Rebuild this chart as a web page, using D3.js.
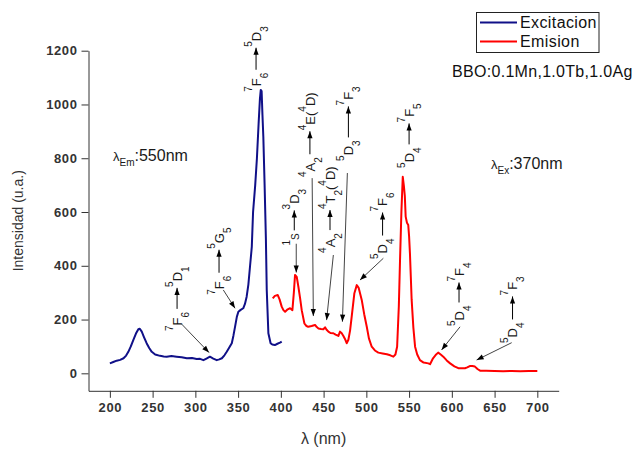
<!DOCTYPE html>
<html>
<head>
<meta charset="utf-8">
<script src="https://cdn.jsdelivr.net/npm/d3@7"></script>
<style>
  body { margin: 0; background: #fff; }
  svg { display: block; font-family: Arial, "Liberation Sans", sans-serif; }
</style>
</head>
<body>
<svg id="chart" width="635" height="451"></svg>
<script>
// excitation spectrum (lambda_em = 550 nm)
const excWl = [200, 204, 208, 212, 216, 219, 221.6, 224.5, 227.5, 230.5, 233.3, 235, 237.3, 240, 243, 246, 249, 253,
  258.7, 263, 266.5, 272, 278, 284, 290, 296, 301.6, 305.5, 309.4, 313, 317, 321, 325, 328, 331, 334, 336.7, 339.5,
  342.6, 344.5, 346.4, 348.5, 350.3, 353, 356, 358, 360, 362, 364, 366, 367.5, 370, 372, 374, 375.5, 376.5, 377.5,
  378.5, 379.5, 381, 382.5, 383.5, 385.4, 388, 390, 393, 396, 399, 401];
const excInt = [37, 42, 47, 50, 56, 66, 80, 100, 124, 148, 164, 166, 155, 134, 112, 94, 80, 70,
  65, 63, 62, 64, 62, 60, 56, 57, 53, 54, 49, 55, 62, 55, 49, 52, 56, 67, 80, 95,
  112, 140, 173, 210, 229, 236, 242, 258, 285, 330, 400, 470, 600, 700, 800, 930, 1020, 1054, 1050,
  960, 880, 700, 500, 310, 149, 112, 107, 105, 110, 114, 118];

// emission spectrum (lambda_ex = 370 nm)
const emWl = [390.5, 393, 396.4, 398.5, 401, 403, 405, 408, 410.8, 413.5, 415.2, 416.6, 418.6, 420.5, 422.5, 424.4,
  427.5, 430, 432, 436, 438, 440, 442, 444, 447, 449.7, 451.7, 453.5, 455.6, 458, 461.4, 464, 467.3, 469.2, 471, 473,
  475, 477, 479, 481, 483, 486, 488.8, 491, 494.6, 497.5, 500.5, 503, 506.3, 510, 514, 519, 524, 528, 531.6, 534, 536,
  538, 539.4, 541, 542.6, 544, 545, 546, 547.5, 549, 550, 551, 552, 553, 555, 557, 559.5, 562.7, 567, 572.5, 574.5,
  578, 581, 584, 587, 590, 594, 598, 603, 607.6, 611, 615.4, 618, 621, 624, 627, 630, 633, 640, 650, 660, 670, 680,
  690, 700];
const emInt = [279, 288, 291, 275, 248, 235, 229, 238, 242, 235, 300, 366, 359, 322, 280, 235,
  186, 176, 173, 176, 178, 180, 172, 167, 165, 164, 171, 162, 155, 150, 149, 144, 139, 155, 150, 140,
  128, 112, 125, 160, 215, 298, 328, 318, 273, 220, 173, 130, 99, 85, 77, 74, 71, 67, 62, 70, 99,
  250, 421, 600, 731, 694, 660, 583, 560, 552, 510, 446, 360, 273, 170, 99, 70, 49, 40, 37, 34,
  56, 68, 77, 70, 62, 48, 37, 26, 19, 19, 19, 22, 27, 27, 25, 16, 10, 10, 9, 8, 9, 8,
  9, 9];

const xTicks = [200, 250, 300, 350, 400, 450, 500, 550, 600, 650, 700];
const xMinor = [175, 225, 275, 325, 375, 425, 475, 525, 575, 625, 675, 725];
const yTicks = [0, 200, 400, 600, 800, 1000, 1200];
const yMinor = [100, 300, 500, 700, 900, 1100];
const seriesNames = ["Excitacion", "Emision"];

// transition labels: ^ = superscript, _ = subscript, ~ = small letter
const notes = [
  { at: [371, 1047], lo: "^7F_6", up: "^5D_3", len: 22 },
  { at: [327.7, 292], lo: "^7F_6", up: "^5G_5", len: 23, ptr: [[332.7, 310], [346.4, 242]] },
  { at: [278.6, 157.6], lo: "^7F_6", up: "^5D_1", len: 21, ptr: [[284, 183], [316, 77]] },
  { at: [415.7, 475], lo: "^1~S", up: "^3D_3", len: 20, ptr: [[418, 482], [418, 375]] },
  { at: [434, 730], lo: "^4A_2", up: "^4E(^4D)", len: 23, ptr: [[436.6, 726], [438, 213]] },
  { at: [457.5, 448], lo: "^4A_2", up: "^4T_2(^4D)", len: 20, ptr: [[461.4, 440], [453.5, 198]] },
  { at: [479, 790], lo: "^5D_3", up: "^7F_3", len: 31, ptr: [[477.8, 745], [472, 192]] },
  { at: [519, 425], lo: "^5D_4", up: "^7F_6", len: 23, ptr: [[519.9, 428], [492.6, 347]] },
  { at: [550, 764], lo: "^5D_4", up: "^7F_5", len: 21 },
  { at: [608.4, 176], lo: "^5D_4", up: "^7F_4", len: 20, ptr: [[609.6, 173], [588, 87]] },
  { at: [671, 113], lo: "^5D_4", up: "^7F_3", len: 23, ptr: [[670, 114], [629, 49.5]] }
];

const svg = d3.select('#chart');
const x = d3.scaleLinear().domain([175, 725]).range([88.5, 558.7]);
const y = d3.scaleLinear().domain([-65, 1200]).range([390.8, 50.7]);
const axisColor = '#333';

// axes
const gx = svg.append('g').attr('transform', `translate(0,${y.range()[0]})`);
gx.call(d3.axisBottom(x).tickValues(xMinor).tickSize(4).tickSizeOuter(0).tickFormat(''));
gx.call(d3.axisBottom(x).tickValues(xTicks).tickSize(7).tickSizeOuter(0).tickPadding(5).tickFormat(d3.format('d')));
const gy = svg.append('g').attr('transform', `translate(${x.range()[0]},0)`);
gy.call(d3.axisLeft(y).tickValues(yMinor).tickSize(4).tickSizeOuter(0).tickFormat(''));
gy.call(d3.axisLeft(y).tickValues(yTicks).tickSize(7).tickSizeOuter(0).tickPadding(4).tickFormat(d3.format('d')));
svg.selectAll('.domain, .tick line').attr('stroke', axisColor);
svg.selectAll('.tick text')
  .attr('fill', axisColor)
  .attr('font-size', 13)
  .attr('font-weight', 'bold')
  .attr('letter-spacing', 0.6)
  .attr('font-family', 'Arial, "Liberation Sans", sans-serif');

svg.append('text')
  .attr('x', (x.range()[0] + x.range()[1]) / 2)
  .attr('y', 444)
  .attr('text-anchor', 'middle')
  .attr('font-size', 16)
  .attr('fill', axisColor)
  .text('λ (nm)');

svg.append('text')
  .attr('transform', `translate(23,${(y.range()[0] + y.range()[1]) / 2}) rotate(-90)`)
  .attr('text-anchor', 'middle')
  .attr('font-size', 14)
  .attr('fill', axisColor)
  .text('Intensidad (u.a.)');

// curves
const line = d3.line().x(d => x(d[0])).y(d => y(d[1]));
svg.append('path')
  .datum(d3.zip(excWl, excInt))
  .attr('d', line)
  .attr('fill', 'none')
  .attr('stroke', '#101088')
  .attr('stroke-width', 2)
  .attr('stroke-linejoin', 'round');
svg.append('path')
  .datum(d3.zip(emWl, emInt))
  .attr('d', line)
  .attr('fill', 'none')
  .attr('stroke', '#ff0000')
  .attr('stroke-width', 2)
  .attr('stroke-linejoin', 'round');

// annotations
function head(g, x1, y1, x2, y2) {
  const a = Math.atan2(y2 - y1, x2 - x1);
  const L = 7, W = 2.6;
  const bx = x2 - L * Math.cos(a), by = y2 - L * Math.sin(a);
  const px = -Math.sin(a) * W, py = Math.cos(a) * W;
  g.append('path')
    .attr('d', `M${x2},${y2}L${bx + px},${by + py}L${bx - px},${by - py}Z`)
    .attr('fill', '#000');
}

function label(g, str, u) {
  const t = g.append('text').attr('x', u).attr('y', 0).attr('fill', '#1a1a1a');
  let cur = 0;
  for (let i = 0; i < str.length; i++) {
    let c = str[i], kind = '';
    if (c === '^' || c === '_' || c === '~') { kind = c; c = str[++i]; }
    const target = kind === '^' ? -9 : kind === '_' ? 7 : 0;
    t.append('tspan')
      .attr('dy', target - cur)
      .attr('font-size', kind ? 10 : 13)
      .text(c);
    cur = target;
  }
  return t.node().getComputedTextLength();
}

const noteLayer = svg.append('g');
notes.forEach(n => {
  if (n.ptr) {
    const [p1, p2] = n.ptr;
    noteLayer.append('line')
      .attr('x1', x(p1[0])).attr('y1', y(p1[1]))
      .attr('x2', x(p2[0])).attr('y2', y(p2[1]))
      .attr('stroke', '#444').attr('stroke-width', 1);
    head(noteLayer, x(p1[0]), y(p1[1]), x(p2[0]), y(p2[1]));
  }
  const g = noteLayer.append('g')
    .attr('transform', `translate(${x(n.at[0]) + 4.6},${y(n.at[1])}) rotate(-90)`);
  const lo = label(g, n.lo, 0);
  const a = lo + 3, b = a + n.len;
  g.append('line')
    .attr('x1', a).attr('y1', -4.6).attr('x2', b).attr('y2', -4.6)
    .attr('stroke', '#000').attr('stroke-width', 1);
  head(g, a, -4.6, b, -4.6);
  label(g, n.up, b + 1);
});

// excitation / emission wavelengths
function lambdaNote(px, py, sub, rest) {
  const t = svg.append('text').attr('x', px).attr('y', py).attr('fill', '#1a1a1a');
  t.append('tspan').attr('font-size', 13).text('λ');
  t.append('tspan').attr('font-size', 10).attr('dy', 5).text(sub);
  t.append('tspan').attr('font-size', 16).attr('dy', -5).text(rest);
}
lambdaNote(113, 161, 'Em', ':550nm');
lambdaNote(491, 169, 'Ex', ':370nm');

// legend
const lg = svg.append('g');
lg.append('rect')
  .attr('x', 476.5).attr('y', 12.5).attr('width', 122.5).attr('height', 40)
  .attr('fill', '#fff').attr('stroke', '#222');
[['#101088', 22.5], ['#ff0000', 41.5]].forEach((s, i) => {
  lg.append('line')
    .attr('x1', 480).attr('x2', 517).attr('y1', s[1]).attr('y2', s[1])
    .attr('stroke', s[0]).attr('stroke-width', 2);
  lg.append('text')
    .attr('x', 520).attr('y', s[1] + 5.5)
    .attr('font-size', 16).attr('letter-spacing', 0.4).attr('fill', '#111')
    .text(seriesNames[i]);
});

svg.append('text')
  .attr('x', 452).attr('y', 77)
  .attr('font-size', 16).attr('letter-spacing', 0.3).attr('fill', '#111')
  .text('BBO:0.1Mn,1.0Tb,1.0Ag');
</script>
</body>
</html>
